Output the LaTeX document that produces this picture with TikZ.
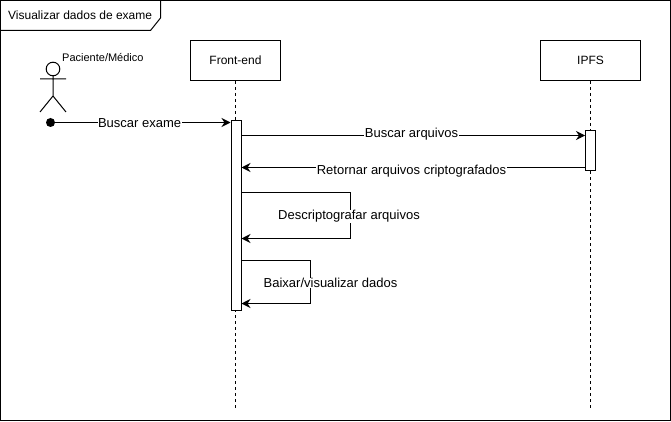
\documentclass[tikz,border=0pt]{standalone}
\usepackage{fontspec}
\setmainfont{Liberation Sans}
\usetikzlibrary{arrows.meta}
\tikzset{
  head/.style={draw,line width=1pt,minimum height=40pt,inner sep=0pt,font=\fontsize{12}{14}\selectfont},
  bar/.style={draw,fill=white,line width=1pt,minimum width=10pt,inner sep=0pt},
  life/.style={line width=1pt,dash pattern=on 3pt off 3pt},
  msg/.style={line width=1pt,-{Stealth[length=9pt,width=9pt,inset=3pt]}},
  lbl/.style={fill=white,inner sep=0.5pt,font=\fontsize{13}{15}\selectfont},
}
\begin{document}
\begin{tikzpicture}[x=1pt,y=-1pt]
\useasboundingbox (0,0) rectangle (671,422);
\fill[white] (0,0) rectangle (671,422);

% frame with title tab
\draw[line width=1pt] (0.5,0.5) rectangle (670.5,420.5);
\draw[line width=1pt] (0.5,30.5) -- (150.5,30.5) -- (160.5,18) -- (160.5,0.5);
\node[font=\fontsize{12}{14}\selectfont,anchor=west,inner sep=0pt] (title) at (8,15) {Visualizar dados de exame};

% actor
\draw[line width=1pt] (53,69) circle (6.8);
\draw[line width=1pt] (53,76) -- (53,96) (40,79) -- (66,79) (40,112) -- (53,96) -- (66,112);
\node[font=\fontsize{11}{13}\selectfont,anchor=west,inner sep=0pt] (actor) at (62,58) {Paciente/Médico};

% lifelines
\node[head,minimum width=90pt] (front) at (235.5,60.5) {Front-end};
\node[head,minimum width=100pt] (ipfs) at (590.5,60.5) {IPFS};
\coordinate (frontEnd) at (235.5,408);
\coordinate (ipfsEnd) at (590.5,408);
\draw[life] (front) -- (frontEnd);
\draw[life] (ipfs) -- (ipfsEnd);

% activations
\node[bar,minimum height=190pt] (barFront) at (236,215.5) {};
\node[bar,minimum height=40pt] (barIpfs) at (590.5,150.5) {};

% found message
\fill[black] (50.5,122.5) circle (4.5) coordinate (start);
\coordinate (m1) at (barFront.west |- 0,122.5);
\draw[msg] (start) -- (m1) node[lbl,pos=0.495,yshift=-0.5pt] (buscarExame) {Buscar exame};

% request and reply
\coordinate (m2a) at (barFront.east |- 0,135.5);
\coordinate (m2b) at (barIpfs.west |- 0,135.5);
\coordinate (m3a) at (barIpfs.west |- 0,167.5);
\coordinate (m3b) at (barFront.east |- 0,167.5);
\draw[msg] (m2a) -- (m2b);
\node[lbl] (buscarArq) at (411.5,134) {Buscar arquivos};
\draw[msg] (m3a) -- (m3b);
\node[lbl] (retorno) at (411.5,171) {Retornar arquivos criptografados};

% self messages
\coordinate (s1a) at (barFront.east |- 0,192.5);
\coordinate (s1b) at (barFront.east |- 0,238.5);
\draw[msg] (s1a) -- (350.5,192.5) -- (350.5,238.5) -- (s1b);
\node[lbl] (decifra) at (349,216.5) {Descriptografar arquivos};
\coordinate (s2a) at (barFront.east |- 0,260.5);
\coordinate (s2b) at (barFront.east |- 0,303.5);
\draw[msg] (s2a) -- (310.5,260.5) -- (310.5,303.5) -- (s2b);
\node[lbl] (baixar) at (330.5,283) {Baixar/visualizar dados};
\end{tikzpicture}
\end{document}
